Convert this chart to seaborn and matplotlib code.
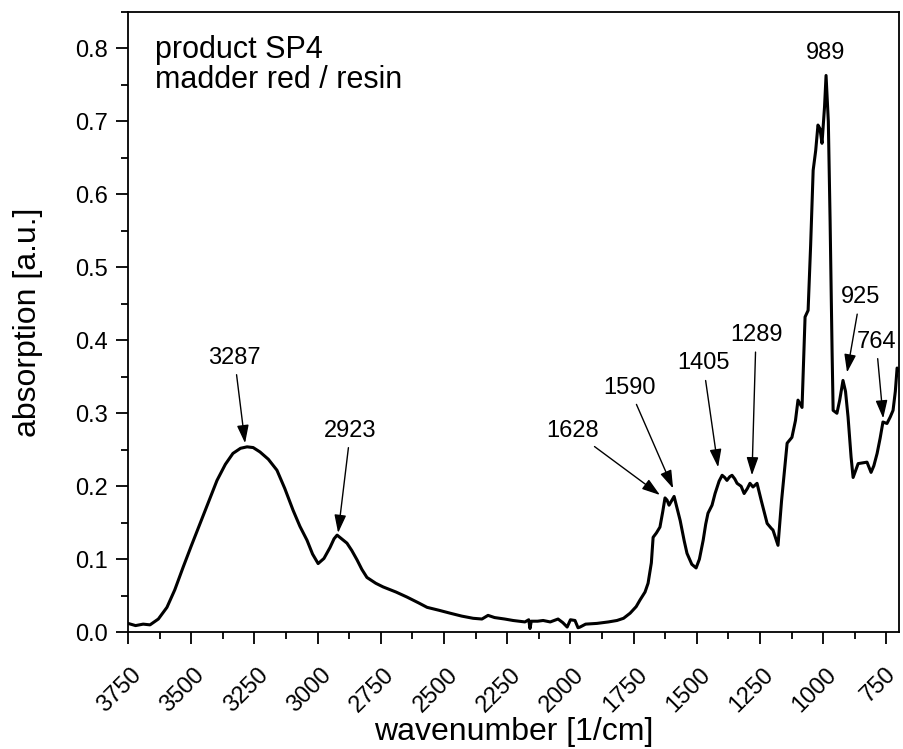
import numpy as np
import pandas as pd
import seaborn as sns
import matplotlib.pyplot as plt
import matplotlib.transforms as mtransforms
from matplotlib.ticker import MultipleLocator

# spectrum
wavenumber = [3750, 3720, 3690, 3663, 3630, 3596, 3565, 3532, 3500, 3465, 3430, 3398,
              3365, 3335, 3305, 3279, 3255, 3228, 3195, 3161, 3130, 3097, 3070, 3042,
              3020, 2998, 2975, 2951, 2935, 2923, 2905, 2884, 2865, 2844, 2825, 2805,
              2770, 2741, 2690, 2646, 2600, 2567, 2520, 2476, 2430, 2385, 2350, 2326,
              2300, 2260, 2227, 2180, 2165, 2160, 2155, 2130, 2108, 2080, 2049, 2030,
              2013, 2000, 1982, 1970, 1962, 1940, 1895, 1850, 1816, 1790, 1764, 1740,
              1725, 1705, 1693, 1680, 1673, 1660, 1646, 1635, 1626, 1618, 1610, 1600,
              1590, 1580, 1566, 1550, 1539, 1520, 1503, 1490, 1475, 1465, 1456, 1440,
              1428, 1412, 1400, 1390, 1381, 1370, 1361, 1350, 1341, 1325, 1313, 1300,
              1290, 1278, 1262, 1245, 1222, 1205, 1199, 1179, 1165, 1143, 1124, 1110,
              1100, 1084, 1072, 1060, 1050, 1040, 1030, 1021, 1013, 1005, 995, 989,
              980, 973, 965, 961, 946, 935, 922, 912, 902, 890, 882, 862, 845, 827, 811,
              800, 787, 775, 764, 748, 735, 724, 715, 708, 700]
absorption = [0.012, 0.009, 0.011, 0.010, 0.018, 0.034, 0.058, 0.089, 0.118, 0.149, 0.180, 0.208,
              0.230, 0.245, 0.252, 0.254, 0.253, 0.247, 0.237, 0.222, 0.197, 0.167, 0.145, 0.126,
              0.107, 0.094, 0.101, 0.116, 0.128, 0.133, 0.128, 0.122, 0.112, 0.099, 0.086, 0.075,
              0.067, 0.062, 0.055, 0.048, 0.040, 0.034, 0.030, 0.026, 0.022, 0.019, 0.018, 0.023,
              0.020, 0.018, 0.016, 0.014, 0.017, 0.005, 0.015, 0.015, 0.016, 0.014, 0.018, 0.013,
              0.007, 0.017, 0.016, 0.006, 0.007, 0.011, 0.012, 0.014, 0.016, 0.019, 0.026, 0.035,
              0.044, 0.055, 0.067, 0.095, 0.130, 0.136, 0.144, 0.165, 0.184, 0.181, 0.174, 0.180,
              0.186, 0.172, 0.153, 0.125, 0.108, 0.093, 0.088, 0.100, 0.126, 0.148, 0.163, 0.174,
              0.190, 0.207, 0.215, 0.212, 0.208, 0.213, 0.215, 0.210, 0.204, 0.200, 0.190, 0.197,
              0.204, 0.199, 0.204, 0.180, 0.149, 0.142, 0.140, 0.119, 0.180, 0.259, 0.267, 0.290,
              0.318, 0.308, 0.432, 0.441, 0.530, 0.633, 0.660, 0.695, 0.690, 0.670, 0.720, 0.763,
              0.700, 0.564, 0.382, 0.304, 0.300, 0.318, 0.345, 0.330, 0.295, 0.240, 0.212, 0.231,
              0.232, 0.233, 0.219, 0.228, 0.245, 0.266, 0.288, 0.286, 0.295, 0.304, 0.330, 0.362,
              0.358]

# peak labels with arrow tips and label positions (baseline)
peak_labels = ["3287", "2923", "1628", "1590", "1405", "1289", "925", "764"]
tip_x = [3287, 2919, 1646, 1594, 1416, 1282, 906, 763]
tip_y = [0.259, 0.136, 0.188, 0.197, 0.226, 0.215, 0.356, 0.293]
text_x = [3329, 2870, 1990, 1768, 1475, 1266, 854, 791]
text_y = [0.368, 0.268, 0.268, 0.327, 0.360, 0.399, 0.451, 0.390]

df = pd.DataFrame({"wavenumber": wavenumber, "absorption": absorption})

sns.set_style("ticks")
plt.rcParams['font.family'] = ['Liberation Sans', 'DejaVu Sans']
plt.rcParams['text.color'] = 'black'
plt.rcParams['axes.labelcolor'] = 'black'

fig = plt.figure(figsize=(9.04, 7.49), dpi=100)
ax = fig.add_axes([0.1416, 0.156, 0.853, 0.828])
sns.lineplot(data=df, x="wavenumber", y="absorption", color="black", linewidth=2.2,
             sort=False, ax=ax)

ax.set_xlim(3750, 700)
ax.set_ylim(0, 0.85)
ax.xaxis.set_major_locator(MultipleLocator(250))
ax.xaxis.set_minor_locator(MultipleLocator(125))
ax.yaxis.set_major_locator(MultipleLocator(0.1))
ax.yaxis.set_minor_locator(MultipleLocator(0.05))
ax.tick_params(which='major', direction='out', length=8.6, width=1.3, labelsize=17, colors='black')
ax.tick_params(which='minor', direction='out', length=5, width=1.3, colors='black')
ax.tick_params(axis='y', pad=6)
ax.tick_params(axis='x', pad=14)
ax.yaxis.set_major_formatter(plt.FormatStrFormatter('%.1f'))
shift = mtransforms.ScaledTranslation(-6 / 72, 0, fig.dpi_scale_trans)
for lab in ax.get_xticklabels():
    lab.set_rotation(45)
    lab.set_ha('center')
    lab.set_transform(lab.get_transform() + shift)
for sp in ax.spines.values():
    sp.set_linewidth(1.3)
    sp.set_color('black')
    sp.set_visible(True)

ax.set_xlabel("wavenumber [1/cm]", fontsize=23)
ax.set_ylabel("absorption [a.u.]", fontsize=23)
ax.xaxis.set_label_coords(0.5, -0.137)
ax.yaxis.set_label_coords(-0.110, 0.5)

ax.text(0.035, 0.926, "product SP4", transform=ax.transAxes, fontsize=22, va='baseline')
ax.text(0.035, 0.877, "madder red / resin", transform=ax.transAxes, fontsize=22, va='baseline')

for lab, tx, ty, lx, ly in zip(peak_labels, tip_x, tip_y, text_x, text_y):
    ax.annotate(lab, xy=(tx, ty), xytext=(lx, ly), fontsize=17, ha='center', va='baseline',
                arrowprops=dict(arrowstyle='-|>,head_length=1.1,head_width=0.36',
                                mutation_scale=10, color='black', lw=1, shrinkA=2, shrinkB=0))
ax.text(989, 0.786, "989", fontsize=17, ha='center', va='baseline')

fig.savefig("out.png", dpi=100)
